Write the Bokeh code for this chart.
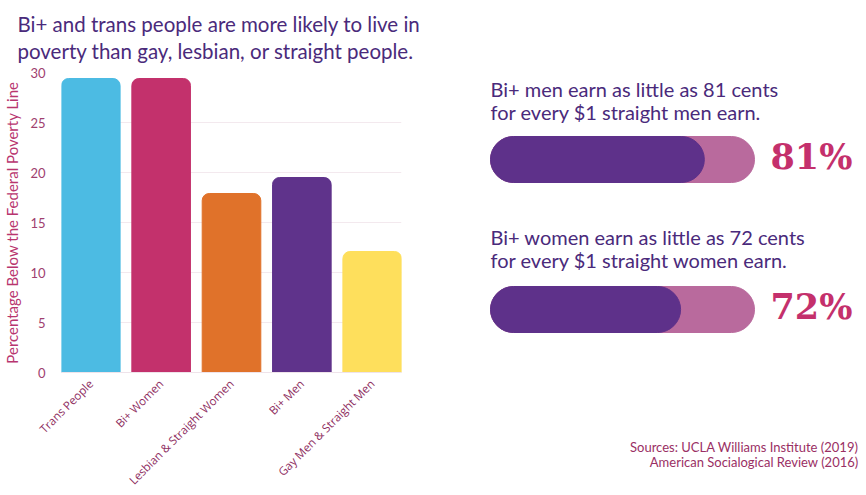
import math
from bokeh.plotting import figure
from bokeh.models import Range1d, FixedTicker, Title
from bokeh.layouts import row
from bokeh.core.properties import value
from bokeh.embed import file_html
from bokeh.resources import INLINE

# ---------------- data ----------------
categories = ["Trans People", "Bi+ Women", "Lesbian & Straight Women", "Bi+ Men", "Gay Men & Straight Men"]
poverty_pct = [29.4, 29.4, 17.9, 19.5, 12.1]
bar_colors = ["#4cbbe3", "#c3316c", "#e0722a", "#5f338b", "#fedf5c"]
y_ticks = [0, 5, 10, 15, 20, 25, 30]
title_lines = ["Bi+ and trans people are more likely to live in",
               "poverty than gay, lesbian, or straight people."]

wage_pct = [81, 72]
wage_line1 = ["Bi+ men earn as little as 81 cents", "Bi+ women earn as little as 72 cents"]
wage_line2 = ["for every $1 straight men earn.", "for every $1 straight women earn."]
sources = ["Sources: UCLA Williams Institute (2019)", "American Socialogical Review (2016)"]

TITLE_COLOR = "#4a2a7b"
PINK_TEXT = "#9a2f64"

# ---------------- left: bar chart ----------------
xs = list(range(len(categories)))
bw = 0.833
left = figure(width=430, height=495, title=None,
              x_range=Range1d(-bw / 2, len(categories) - 1 + bw / 2),
              y_range=Range1d(0, 30),
              output_backend="svg", toolbar_location=None,
              min_border_left=58, min_border_right=29,
              min_border_top=72, min_border_bottom=121)
left.frame_align = False
left.vbar(x=xs, top=poverty_pct, width=bw, color=bar_colors,
          border_radius=(7, 7, 0, 0))

left.outline_line_color = None
left.xgrid.grid_line_color = None
left.ygrid.grid_line_color = "#f3e9ee"
left.ygrid.ticker = FixedTicker(ticks=y_ticks)

xa = left.xaxis[0]
xa.ticker = FixedTicker(ticks=xs)
xa.major_label_overrides = {i: c for i, c in enumerate(categories)}
xa.major_label_orientation = math.pi / 4
xa.axis_line_color = "#efe3ea"
xa.major_tick_line_color = None
xa.minor_tick_line_color = None
xa.major_label_text_font = "Open Sans"
xa.major_label_text_font_size = "11.5px"
xa.major_label_text_color = "#8e2d60"
xa.major_label_standoff = 3

ya = left.yaxis[0]
ya.ticker = FixedTicker(ticks=y_ticks)
ya.axis_line_color = None
ya.major_tick_line_color = None
ya.minor_tick_line_color = None
ya.major_label_text_font = "Lato"
ya.major_label_text_font_size = "13px"
ya.major_label_text_color = "#a0406f"
ya.major_label_standoff = 10
ya.axis_label = "Percentage Below the Federal Poverty Line"
ya.axis_label_text_font = "Lato"
ya.axis_label_text_font_style = "normal"
ya.axis_label_text_font_size = "15px"
ya.axis_label_text_color = "#b8356f"
ya.axis_label_standoff = 6

left.add_layout(Title(text="\n".join(title_lines), align="left",
                      offset=-44, text_font="Lato", text_font_size="20.5px",
                      text_font_style="normal", text_color=TITLE_COLOR,
                      text_line_height=1.13, standoff=18), "above")

# ---------------- right: wage pills ----------------
RW, RH = 436, 495
pill_left_px, pill_w_px = 60, 264
ppu = pill_w_px / 100.0
right = figure(width=RW, height=RH, title=None,
               x_range=Range1d(-pill_left_px / ppu, (RW - pill_left_px) / ppu),
               y_range=Range1d(RH, 0),
               x_axis_location=None, y_axis_location=None,
               output_backend="svg", toolbar_location=None, min_border=0)
right.frame_align = False
right.outline_line_color = None
right.xgrid.visible = False
right.ygrid.visible = False

pill_y = [159, 309]
line1_y = [88, 236]
line2_y = [111, 259]

right.hbar(y=pill_y, height=46, left=0, right=[100] * len(wage_pct),
           color="#b96a9d", border_radius=23)
right.hbar(y=pill_y, height=46, left=0, right=wage_pct,
           color="#5e318a", border_radius=23)

right.text(x=[100] * len(wage_pct), y=pill_y, text=[f"{v}%" for v in wage_pct],
           x_offset=16, y_offset=-3, text_baseline="middle", text_align="left",
           text_font=value("DejaVu Serif"), text_font_style="bold",
           text_font_size="35px", text_color="#c4306c")

right.text(x=[0] * len(wage_line1), y=line1_y, text=wage_line1,
           text_baseline="alphabetic", text_font=value("Lato"),
           text_font_size="20px", text_color=TITLE_COLOR)
right.text(x=[0] * len(wage_line2), y=line2_y, text=wage_line2,
           text_baseline="alphabetic", text_font=value("Lato"),
           text_font_size="20px", text_color=TITLE_COLOR)

src_x = (858 - 430 - pill_left_px) / ppu
right.text(x=[src_x] * len(sources), y=[446, 461], text=sources,
           text_baseline="alphabetic", text_align="right", text_font=value("Lato"),
           text_font_size="13px", text_color=PINK_TEXT)

layout = row(left, right)
open("out.html", "w").write(file_html(layout, INLINE))
